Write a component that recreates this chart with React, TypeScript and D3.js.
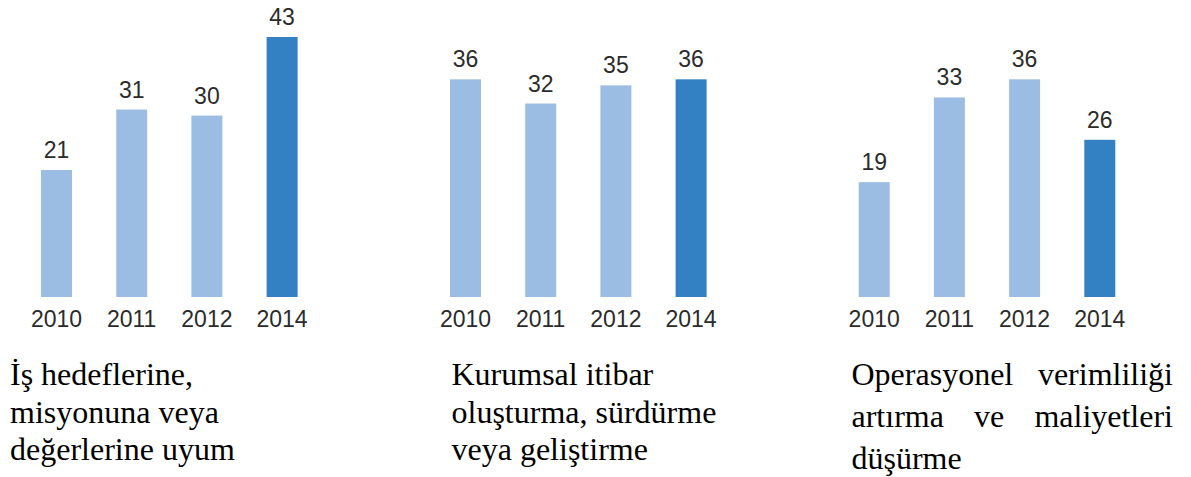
import React, { useEffect, useRef } from "react";
import * as d3 from "d3";

const years = ["2010", "2011", "2012", "2014"];
const valuesAlignment = [21, 31, 30, 43];
const valuesReputation = [36, 32, 35, 36];
const valuesEfficiency = [19, 33, 36, 26];
const highlightYear = "2014";

const titleAlignment = ["İş hedeflerine,", "misyonuna veya", "değerlerine uyum"];
const titleReputation = ["Kurumsal itibar", "oluşturma, sürdürme", "veya geliştirme"];
const titleEfficiency = ["Operasyonel verimliliği", "artırma ve maliyetleri", "düşürme"];

const LIGHT = "#9bbde4";
const DARK = "#3381c2";
const NUM_COLOR = "#2b2b2b";

export default function App() {
  const ref = useRef<SVGSVGElement>(null);

  useEffect(() => {
    const svg = d3.select(ref.current);
    svg.selectAll("*").remove();

    const baseY = 297;
    const topY = 37;
    const maxV = d3.max(valuesAlignment) as number;
    const y = d3.scaleLinear().domain([0, maxV]).range([baseY, topY]);
    const step = 75.2;
    const bw = 31;
    const pad = 1 - bw / step;
    const serifSize = 32;

    const panels = [
      { values: valuesAlignment, x0: 18.9, title: titleAlignment, tx: 10, ty: 385, lh: 37.5, justifyRight: 0 },
      { values: valuesReputation, x0: 427.9, title: titleReputation, tx: 451.5, ty: 385, lh: 37.5, justifyRight: 0 },
      { values: valuesEfficiency, x0: 836.6, title: titleEfficiency, tx: 851.5, ty: 385, lh: 42, justifyRight: 1173 },
    ];

    panels.forEach((p) => {
      const x = d3
        .scaleBand<string>()
        .domain(years)
        .range([p.x0, p.x0 + step * years.length])
        .paddingInner(pad)
        .paddingOuter(pad / 2);
      const data = years.map((yr, i) => ({ yr, v: p.values[i] }));
      const g = svg.append("g");

      g.selectAll("rect")
        .data(data)
        .join("rect")
        .attr("x", (d) => x(d.yr) as number)
        .attr("y", (d) => y(d.v))
        .attr("width", x.bandwidth())
        .attr("height", (d) => baseY - y(d.v))
        .attr("fill", (d) => (d.yr === highlightYear ? DARK : LIGHT));

      g.selectAll("text.val")
        .data(data)
        .join("text")
        .attr("class", "val")
        .attr("x", (d) => (x(d.yr) as number) + x.bandwidth() / 2)
        .attr("y", (d) => y(d.v) - 12)
        .attr("text-anchor", "middle")
        .attr("font-family", "'Liberation Sans', Arial, Helvetica, sans-serif")
        .attr("font-size", 23)
        .attr("fill", NUM_COLOR)
        .text((d) => String(d.v));

      g.selectAll("text.yr")
        .data(data)
        .join("text")
        .attr("class", "yr")
        .attr("x", (d) => (x(d.yr) as number) + x.bandwidth() / 2)
        .attr("y", baseY + 29.5)
        .attr("text-anchor", "middle")
        .attr("font-family", "'Liberation Sans', Arial, Helvetica, sans-serif")
        .attr("font-size", 23)
        .attr("fill", NUM_COLOR)
        .text((d) => d.yr);

      const tg = svg.append("g");
      p.title.forEach((line, li) => {
        const ly = p.ty + li * p.lh;
        const isLast = li === p.title.length - 1;
        if (p.justifyRight && !isLast) {
          const words = line.split(" ");
          const nodes = words.map((w) =>
            tg
              .append("text")
              .attr("y", ly)
              .attr("font-family", "'Liberation Serif', 'Times New Roman', serif")
              .attr("font-size", serifSize)
              .attr("fill", "#000")
              .text(w)
          );
          const widths = nodes.map((n) => (n.node() as SVGTextElement).getComputedTextLength());
          const total = d3.sum(widths);
          const gap = words.length > 1 ? (p.justifyRight - p.tx - total) / (words.length - 1) : 0;
          let cx = p.tx;
          nodes.forEach((n, i) => {
            n.attr("x", cx);
            cx += widths[i] + gap;
          });
        } else {
          tg.append("text")
            .attr("x", p.tx)
            .attr("y", ly)
            .attr("font-family", "'Liberation Serif', 'Times New Roman', serif")
            .attr("font-size", serifSize)
            .attr("fill", "#000")
            .text(line);
        }
      });
    });
  }, []);

  return (
    <div style={{ position: "absolute", left: 0, top: 0 }}>
      <svg ref={ref} width={1191} height={477} style={{ display: "block", background: "#fff" }} />
    </div>
  );
}
